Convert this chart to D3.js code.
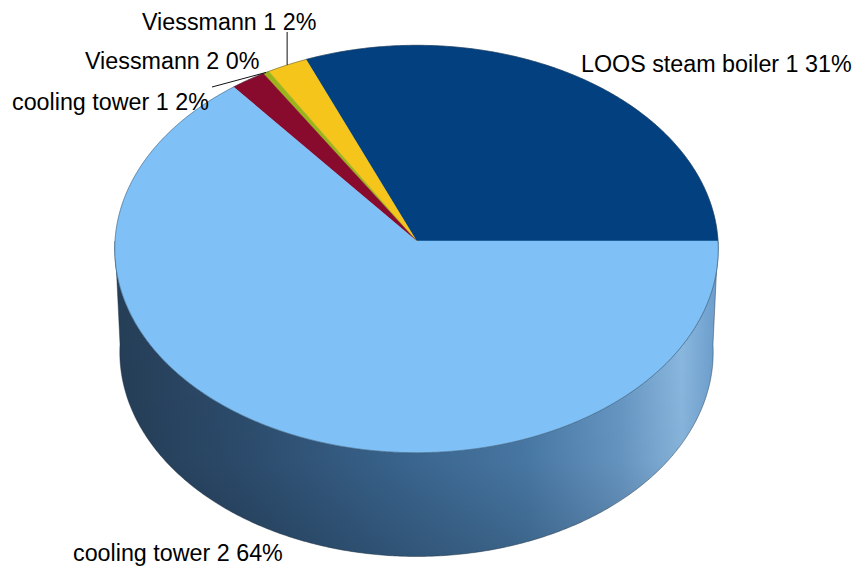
<!DOCTYPE html>
<html>
<head>
<meta charset="utf-8">
<script src="https://cdn.jsdelivr.net/npm/d3@7"></script>
<style>
  html, body { margin: 0; padding: 0; background: #ffffff; }
  svg { display: block; }
  text { font-family: "Liberation Sans", Arial, sans-serif; fill: #000; }
</style>
</head>
<body>
<svg id="chart" width="860" height="568"></svg>
<script>
// Energy share by consumer
const categories = ["LOOS steam boiler 1", "Viessmann 1", "Viessmann 2", "cooling tower 1", "cooling tower 2"];
const shares = [31.2, 2.25, 0.35, 1.95, 64.25];
const sliceColors = ["#03407f", "#f6c51c", "#9cb41c", "#880a2c", "#7fc1f6"];

// Label placement (text start x, baseline y) and optional leader start
const labelPos = [[581, 72], [142, 29.5], [85, 68.5], [12, 109.5], [73, 561]];
const leaderFrom = [null, [null, 32], [212, 87], null, null];

const svg = d3.select("#chart");
const W = 860, H = 568;

// Perspective view of a disc of unit radius, seen from above
const cx = 416.5, cy = 241;
const dist = 18.8;                 // camera distance in radii
const sinP = 0.6745, cosP = Math.sqrt(1 - sinP * sinP);
const focal = 301.5 * dist;        // screen px for a unit at the centre depth
const thick = 0.472;               // pie height in radii

function project(theta, yUp, r = 1) {
  const X = r * Math.cos(theta), Z = r * Math.sin(theta);
  const depth = dist - yUp * sinP + Z * cosP;
  const up = yUp * cosP + Z * sinP;
  return [cx + focal * X / depth, cy - focal * up / depth];
}

const pie = d3.pie().sort(null).value(d => d.value);
const arcs = pie(categories.map((c, i) => ({ name: c, value: shares[i], color: sliceColors[i] })));

const line = d3.line().curve(d3.curveLinearClosed);
const step = Math.PI / 360;
function ringPoints(a0, a1, yUp) {
  const pts = [];
  const n = Math.max(2, Math.ceil((a1 - a0) / step));
  for (let i = 0; i <= n; i++) pts.push(project(a0 + (a1 - a0) * i / n, yUp));
  return pts;
}

// Side wall gradient
const defs = svg.append("defs");
const left = project(Math.PI, 0)[0], right = project(0, 0)[0];
const grad = defs.append("linearGradient")
  .attr("id", "wall").attr("gradientUnits", "userSpaceOnUse")
  .attr("x1", left).attr("y1", 0).attr("x2", right).attr("y2", 0);
[[0, "#263f58"], [0.2, "#2d4d6e"], [0.45, "#3a6690"], [0.68, "#4a7caa"],
 [0.84, "#6a9bc9"], [0.94, "#8cbbe3"], [1, "#6c9fcf"]]
  .forEach(([o, c]) => grad.append("stop").attr("offset", o).attr("stop-color", c));
const shade = defs.append("linearGradient")
  .attr("id", "wallShade").attr("x1", 0).attr("y1", 0).attr("x2", 0).attr("y2", 1);
shade.append("stop").attr("offset", 0).attr("stop-color", "#000").attr("stop-opacity", 0);
shade.append("stop").attr("offset", 0.7).attr("stop-color", "#000").attr("stop-opacity", 0.05);
shade.append("stop").attr("offset", 1).attr("stop-color", "#000").attr("stop-opacity", 0.2);

const g = svg.append("g");

// Front wall (lower half of the rim)
const wallPts = ringPoints(Math.PI, 2 * Math.PI, 0)
  .concat(ringPoints(Math.PI, 2 * Math.PI, -thick).reverse());
g.append("path").attr("d", line(wallPts)).attr("fill", "url(#wall)");
g.append("path").attr("d", line(wallPts)).attr("fill", "url(#wallShade)");
g.append("path").attr("d", line(wallPts)).attr("fill", "none")
  .attr("stroke", "#1e3040").attr("stroke-width", 0.8).attr("stroke-opacity", 0.55);

// Top faces
const apex = project(0, 0, 0);
g.selectAll("path.slice").data(arcs).join("path")
  .attr("class", "slice")
  .attr("d", d => line([apex].concat(ringPoints(d.startAngle, d.endAngle, 0))))
  .attr("fill", d => d.data.color)
  .attr("stroke", d => d.data.color).attr("stroke-width", 0.5);

// Rim outline
g.append("path").attr("d", line(ringPoints(0, 2 * Math.PI, 0)))
  .attr("fill", "none").attr("stroke", "#1e3040")
  .attr("stroke-width", 0.8).attr("stroke-opacity", 0.5);

// Leader lines
arcs.forEach((d, i) => {
  const from = leaderFrom[i];
  if (!from) return;
  const mid = (d.startAngle + d.endAngle) / 2;
  const [ex, ey] = project(mid, 0);
  const sx = from[0] === null ? ex : from[0];
  g.append("line")
    .attr("x1", sx).attr("y1", from[1]).attr("x2", ex).attr("y2", ey)
    .attr("stroke", "#111").attr("stroke-width", 1);
});

// Labels
const fmt = d3.format(".0f");
g.selectAll("text.label").data(arcs).join("text")
  .attr("class", "label")
  .attr("x", (d, i) => labelPos[i][0])
  .attr("y", (d, i) => labelPos[i][1])
  .attr("font-size", "23.3px")
  .text(d => `${d.data.name} ${fmt(d.data.value)}%`);
</script>
</body>
</html>
